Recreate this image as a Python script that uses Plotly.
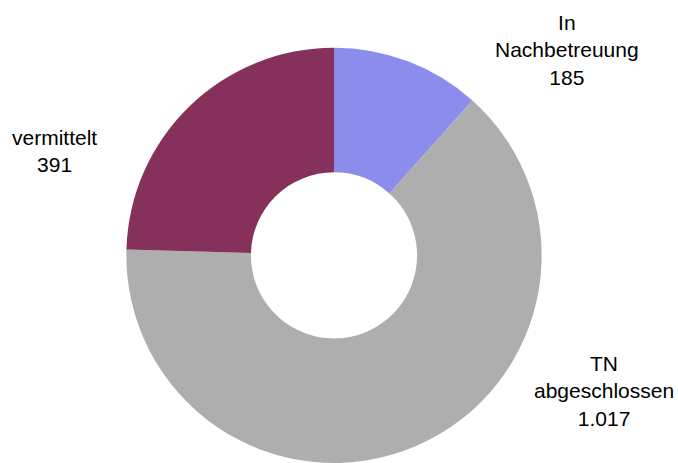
import plotly.graph_objects as go

# Data
categories = ["In<br>Nachbetreuung", "TN<br>abgeschlossen", "vermittelt"]
values = [185, 1017, 391]

# Styling
colors = ["#8C8CEC", "#AEAEAE", "#86305C"]
label_pos = [(567, 50), (604, 391), (54, 151)]  # pixel centers of the labels

W, H = 678, 463

def fmt(v):
    return f"{v:,}".replace(",", ".")

fig = go.Figure(
    go.Pie(
        labels=categories,
        values=values,
        hole=0.40,
        sort=False,
        direction="clockwise",
        rotation=0,
        marker=dict(colors=colors, line=dict(width=0)),
        textinfo="none",
        hoverinfo="label+value",
        showlegend=False,
        domain=dict(x=[125 / W, 543 / W], y=[0, 0.897]),
    )
)

annotations = []
for cat, val, (px, py) in zip(categories, values, label_pos):
    annotations.append(
        dict(
            text=f"{cat}<br>{fmt(val)}",
            x=px / W,
            y=1 - py / H,
            xref="paper",
            yref="paper",
            xanchor="center",
            yanchor="middle",
            showarrow=False,
            align="center",
            font=dict(family="Liberation Sans, Arial, sans-serif", size=21, color="#000000"),
        )
    )

fig.update_layout(
    width=W,
    height=H,
    margin=dict(l=0, r=0, t=0, b=0),
    paper_bgcolor="white",
    plot_bgcolor="white",
    annotations=annotations,
)

fig.write_html(
    "out.html",
    config={"displayModeBar": False},
    post_script="document.body.style.margin='0';document.body.style.padding='0';document.body.style.overflow='hidden';",
)
